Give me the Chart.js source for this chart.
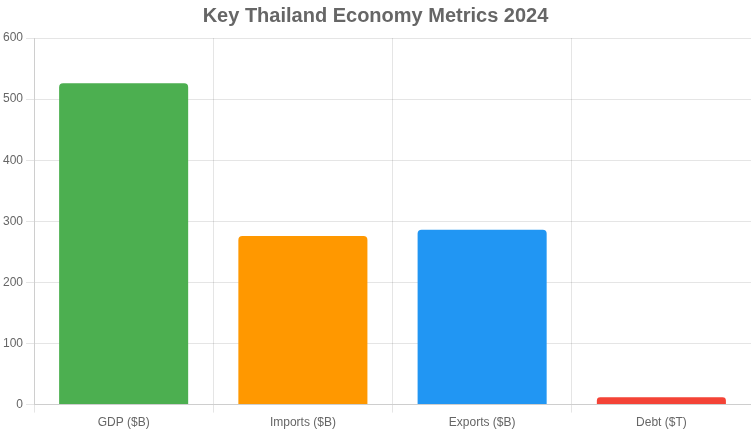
<!DOCTYPE html><html><head><script src="https://cdn.jsdelivr.net/npm/chart.js@4"></script>
<style>body{margin:0;background:#fff}#w{width:751px;height:433px}</style></head><body><div id="w"><canvas id="c"></canvas></div>
<script>
const categories=["GDP ($B)","Imports ($B)","Exports ($B)","Debt ($T)"];
const values=[526,276,286,12];
const colors=["#4CAF50","#FF9800","#2196F3","#F44336"];
new Chart(document.getElementById('c'),{type:'bar',data:{labels:categories,datasets:[{data:values,backgroundColor:colors,borderRadius:4,categoryPercentage:0.8,barPercentage:0.9}]},
options:{responsive:true,maintainAspectRatio:false,animation:false,layout:{padding:{right:0}},
plugins:{legend:{display:false},title:{display:true,text:'Key Thailand Economy Metrics 2024',font:{size:20,weight:'bold',family:'Arial'},color:'#666',padding:{top:4,bottom:10}}},
scales:{y:{min:0,max:600,ticks:{stepSize:100,color:'#666',font:{family:'Arial',size:12}}},x:{ticks:{color:'#666',font:{family:'Arial',size:12}}}}}});
</script></body></html>
